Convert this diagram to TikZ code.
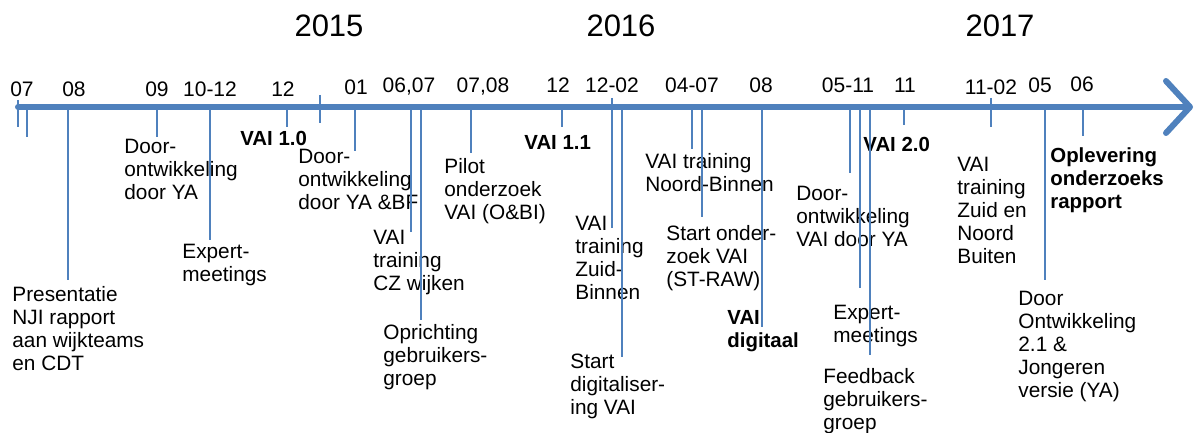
\documentclass[tikz,border=0pt]{standalone}
\usepackage{fontspec}
\setmainfont{Liberation Sans}
\usepackage{tikz}
\usetikzlibrary{arrows.meta}
\definecolor{AxisBlue}{HTML}{4F81BD}

\begin{document}
\begin{tikzpicture}[x=0.5pt,y=-0.5pt]
  \tikzstyle{YearStyle}=[font=\fontsize{15.5}{18}\selectfont,anchor=base,inner sep=0pt]
  \tikzstyle{MonthStyle}=[font=\fontsize{10.5}{12}\selectfont,anchor=base,inner sep=0pt]
  \tikzstyle{LabelStyle}=[font=\fontsize{10.4}{11.5}\selectfont,anchor=north west,align=left,inner sep=0pt]
  \tikzstyle{BoldStyle}=[LabelStyle,font=\fontsize{10.2}{11.5}\selectfont\bfseries]
  \tikzstyle{TickStyle}=[draw=AxisBlue,line width=1pt]
  \tikzstyle{AxisStyle}=[draw=AxisBlue,line width=3pt,line cap=round,
    -{Straight Barb[length=12pt,width=26pt,round]}]
  \useasboundingbox (0,0) rectangle (1194,433);
  % years
  \node[YearStyle] (y15) at (329,37) {2015};
  \node[YearStyle] (y16) at (621,37) {2016};
  \node[YearStyle] (y17) at (1000,37) {2017};
  % axis
  \coordinate (start) at (18,107);
  \coordinate (end) at (1193,107);
  \draw[AxisStyle] (start) -- (end);
  \coordinate (s1) at (18,100);
  \coordinate (s2) at (18,127);
  \coordinate (s3) at (320,95);
  \coordinate (s4) at (320,123);
  \draw[TickStyle] (s1) -- (s2);
  \draw[TickStyle] (s3) -- (s4);
  % months
  \node[MonthStyle] (m1) at (22,97) {07};
  \node[MonthStyle] (m2) at (74,97) {08};
  \node[MonthStyle] (m3) at (157,97) {09};
  \node[MonthStyle] (m4) at (210,97) {10-12};
  \node[MonthStyle] (m5) at (283,97) {12};
  \node[MonthStyle] (m6) at (356,95) {01};
  \node[MonthStyle] (m7) at (409,93) {06,07};
  \node[MonthStyle] (m8) at (483,93) {07,08};
  \node[MonthStyle] (m9) at (558,93) {12};
  \node[MonthStyle] (m10) at (612,93) {12-02};
  \node[MonthStyle] (m11) at (692,93) {04-07};
  \node[MonthStyle] (m12) at (761,93) {08};
  \node[MonthStyle] (m13) at (848,93) {05-11};
  \node[MonthStyle] (m14) at (905,93) {11};
  \node[MonthStyle] (m15) at (991,95) {11-02};
  \node[MonthStyle] (m16) at (1040,93) {05};
  \node[MonthStyle] (m17) at (1082,92) {06};
  % events
  \node[LabelStyle] (A) at (12,286) {Presentatie\\NJI rapport\\aan wijkteams\\en CDT};
  \node[LabelStyle] (B) at (124,139) {Door-\\ontwikkeling\\door YA};
  \node[LabelStyle] (C) at (182,244) {Expert-\\meetings};
  \node[BoldStyle] (D) at (240,131) {VAI 1.0};
  \node[LabelStyle] (E) at (298,149) {Door-\\ontwikkeling\\door YA \&BF};
  \node[LabelStyle] (F) at (373,230) {VAI\\training\\CZ wijken};
  \node[LabelStyle] (G) at (383,324) {Oprichting\\gebruikers-\\groep};
  \node[LabelStyle] (H) at (444,158) {Pilot\\onderzoek\\VAI (O\&BI)};
  \node[BoldStyle] (I) at (524,135) {VAI 1.1};
  \node[LabelStyle] (J) at (575,216) {VAI\\training\\Zuid-\\Binnen};
  \node[LabelStyle] (K) at (570,354) {Start\\digitaliser-\\ing VAI};
  \node[LabelStyle] (L) at (645,153) {VAI training\\Noord-Binnen};
  \node[LabelStyle] (M) at (666,225) {Start onder-\\zoek VAI\\(ST-RAW)};
  \node[BoldStyle] (N) at (727,310) {VAI\\digitaal};
  \node[LabelStyle] (O) at (796,186) {Door-\\ontwikkeling\\VAI door YA};
  \node[LabelStyle] (P) at (833,305) {Expert-\\meetings};
  \node[LabelStyle] (Q) at (823,368) {Feedback\\gebruikers-\\groep};
  \node[BoldStyle] (R) at (863,137) {VAI 2.0};
  \node[LabelStyle] (S) at (957,157) {VAI\\training\\Zuid en\\Noord\\Buiten};
  \node[LabelStyle] (T) at (1018,291) {Door\\Ontwikkeling\\2.1 \&\\Jongeren\\versie (YA)};
  \node[BoldStyle] (U) at (1050,147) {Oplevering\\onderzoeks\\rapport};
  % tick lines
  \coordinate (a0) at (27,107);   \coordinate (b0) at (27,137);
  \coordinate (aA) at (68,107);   \coordinate (bA) at (68,280);
  \coordinate (aB) at (157,107);  \coordinate (bB) at (157,137);
  \coordinate (aC) at (210,107);  \coordinate (bC) at (210,240);
  \coordinate (aD) at (287,107);  \coordinate (bD) at (287,127);
  \coordinate (aE) at (355,107);  \coordinate (bE) at (355,151);
  \coordinate (aF) at (411,107);  \coordinate (bF) at (411,232);
  \coordinate (aG) at (421,107);  \coordinate (bG) at (421,320);
  \coordinate (aH) at (471,107);  \coordinate (bH) at (471,153);
  \coordinate (aI) at (562,107);  \coordinate (bI) at (562,127);
  \coordinate (aJ) at (612,98);   \coordinate (bJ) at (612,228);
  \coordinate (aK) at (622,107);  \coordinate (bK) at (622,357);
  \coordinate (aL) at (692,107);  \coordinate (bL) at (692,149);
  \coordinate (aM) at (702,107);  \coordinate (bM) at (702,217);
  \coordinate (aN) at (762,107);  \coordinate (bN) at (762,327);
  \coordinate (aO) at (850,107);  \coordinate (bO) at (850,173);
  \coordinate (aP) at (860,107);  \coordinate (bP) at (860,288);
  \coordinate (aQ) at (870,107);  \coordinate (bQ) at (870,355);
  \coordinate (aR) at (904,107);  \coordinate (bR) at (904,125);
  \coordinate (aS) at (991,98);   \coordinate (bS) at (991,127);
  \coordinate (aT) at (1045,107); \coordinate (bT) at (1045,280);
  \coordinate (aU) at (1083,107); \coordinate (bU) at (1083,136);
  \draw[TickStyle] (a0) -- (b0);
  \draw[TickStyle] (aA) -- (bA);
  \draw[TickStyle] (aB) -- (bB);
  \draw[TickStyle] (aC) -- (bC);
  \draw[TickStyle] (aD) -- (bD);
  \draw[TickStyle] (aE) -- (bE);
  \draw[TickStyle] (aF) -- (bF);
  \draw[TickStyle] (aG) -- (bG);
  \draw[TickStyle] (aH) -- (bH);
  \draw[TickStyle] (aI) -- (bI);
  \draw[TickStyle] (aJ) -- (bJ);
  \draw[TickStyle] (aK) -- (bK);
  \draw[TickStyle] (aL) -- (bL);
  \draw[TickStyle] (aM) -- (bM);
  \draw[TickStyle] (aN) -- (bN);
  \draw[TickStyle] (aO) -- (bO);
  \draw[TickStyle] (aP) -- (bP);
  \draw[TickStyle] (aQ) -- (bQ);
  \draw[TickStyle] (aR) -- (bR);
  \draw[TickStyle] (aS) -- (bS);
  \draw[TickStyle] (aT) -- (bT);
  \draw[TickStyle] (aU) -- (bU);
\end{tikzpicture}
\end{document}
